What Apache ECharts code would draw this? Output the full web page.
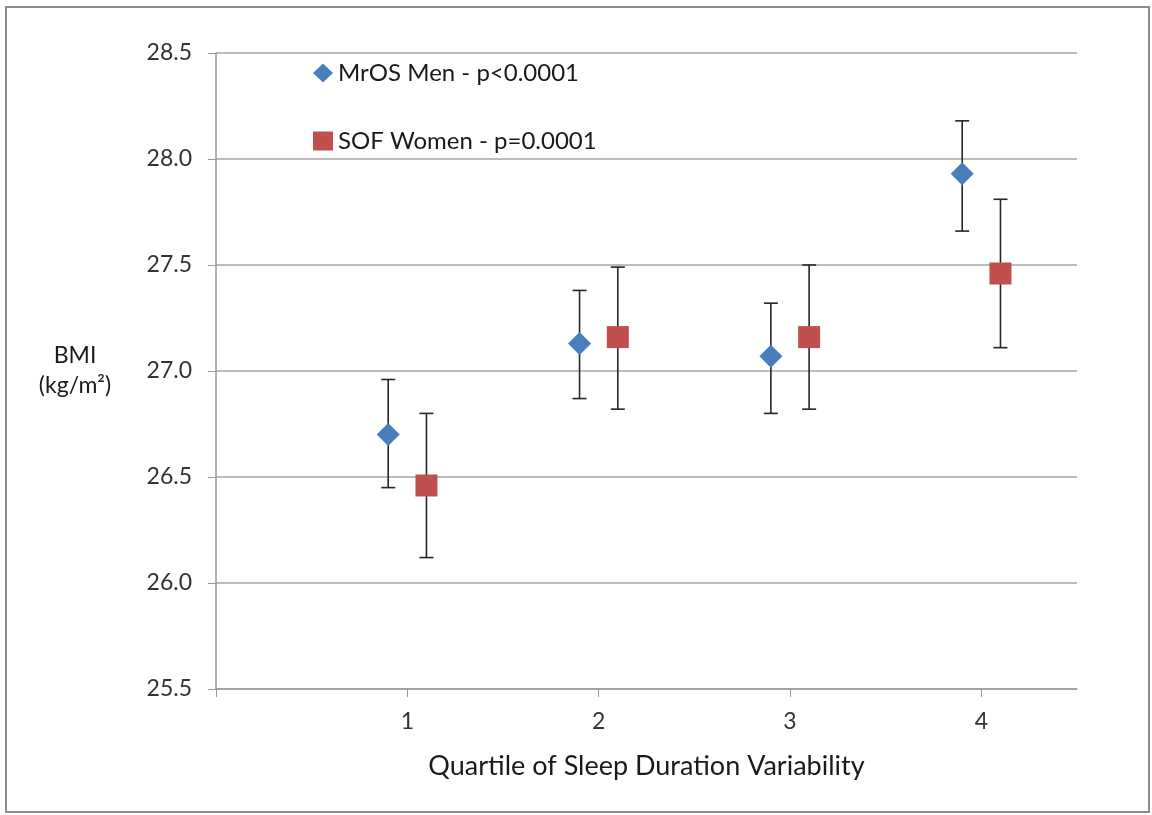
<!DOCTYPE html>
<html>
<head>
<meta charset="utf-8">
<script src="https://cdn.jsdelivr.net/npm/echarts@6/dist/echarts.min.js"></script>
<style>
    html, body { margin: 0; padding: 0; background: #fff; }
    #chart { width: 1152px; height: 815px; }
</style>
</head>
<body>
<div id="chart"></div>
<script>
// quartile positions, men drawn just left, women just right of each quartile
var quartileTicks = [0, 1, 2, 3, 4];
var quartileLabels = [1, 2, 3, 4];
var menX = [0.9, 1.9, 2.9, 3.9];
var womenX = [1.1, 2.1, 3.1, 4.1];

// BMI means and error bar ends
var menMean = [26.70, 27.13, 27.07, 27.93];
var menLow = [26.45, 26.87, 26.80, 27.66];
var menHigh = [26.96, 27.38, 27.32, 28.18];

var womenMean = [26.46, 27.16, 27.16, 27.46];
var womenLow = [26.12, 26.82, 26.82, 27.11];
var womenHigh = [26.80, 27.49, 27.50, 27.81];

var menName = 'MrOS Men - p<0.0001';
var womenName = 'SOF Women - p=0.0001';

function zip(xs, a, b) {
    var out = [];
    for (var i = 0; i < xs.length; i++) {
        out.push(b ? [xs[i], a[i], b[i]] : [xs[i], a[i]]);
    }
    return out;
}

function renderErrorBar(params, api) {
    var x = api.value(0);
    var top = api.coord([x, api.value(2)]);
    var bottom = api.coord([x, api.value(1)]);
    var half = 7;
    var style = {stroke: '#262626', lineWidth: 1.6};
    return {
        type: 'group',
        children: [
            {type: 'line', shape: {x1: top[0], y1: top[1], x2: bottom[0], y2: bottom[1]}, style: style},
            {type: 'line', shape: {x1: top[0] - half, y1: top[1], x2: top[0] + half, y2: top[1]}, style: style},
            {type: 'line', shape: {x1: bottom[0] - half, y1: bottom[1], x2: bottom[0] + half, y2: bottom[1]}, style: style}
        ]
    };
}

var font = 'Lato';
var chart = echarts.init(document.getElementById('chart'));
chart.setOption({
    animation: false,
    textStyle: {fontFamily: font},
    graphic: [{
        type: 'rect',
        shape: {x: 6, y: 7, width: 1143, height: 805},
        style: {fill: 'none', stroke: '#8c8c8c', lineWidth: 2},
        silent: true
    }],
    grid: {left: 216, right: 75, top: 53, bottom: 126},
    legend: {
        orient: 'vertical',
        left: 308,
        top: 56,
        itemGap: 44,
        itemWidth: 20,
        itemHeight: 19,
        textStyle: {fontFamily: font, fontSize: 24, lineHeight: 24, color: '#1a1a1a'},
        data: [
            {name: menName, icon: 'diamond'},
            {name: womenName, icon: 'rect'}
        ]
    },
    xAxis: {
        type: 'value',
        min: 0,
        max: 4.5,
        interval: 1,
        name: 'Quartile of Sleep Duration Variability',
        nameLocation: 'middle',
        nameGap: 64,
        nameTextStyle: {fontFamily: font, fontSize: 27, color: '#1a1a1a'},
        axisLine: {show: true, lineStyle: {color: '#9a9a9a', width: 1.5}},
        axisTick: {show: true, length: 8, customValues: quartileTicks, lineStyle: {color: '#9a9a9a'}},
        axisLabel: {customValues: quartileLabels, margin: 21, fontSize: 23, color: '#333'},
        splitLine: {show: false}
    },
    yAxis: {
        type: 'value',
        min: 25.5,
        max: 28.5,
        interval: 0.5,
        name: 'BMI\n(kg/m²)',
        nameLocation: 'middle',
        nameRotate: 0,
        nameGap: 141,
        nameTextStyle: {fontFamily: font, fontSize: 23, color: '#1a1a1a', align: 'center', verticalAlign: 'middle', lineHeight: 30},
        axisLine: {show: true, lineStyle: {color: '#9a9a9a', width: 1.5}},
        axisTick: {show: true, length: 8, lineStyle: {color: '#9a9a9a'}},
        axisLabel: {
            margin: 24,
            fontSize: 23,
            color: '#333',
            formatter: function (v) { return v.toFixed(1); }
        },
        splitLine: {show: true, lineStyle: {color: '#a6a6a6', width: 1.5}}
    },
    series: [
        {
            type: 'custom',
            name: 'menErr',
            renderItem: renderErrorBar,
            encode: {x: 0, y: [1, 2]},
            data: zip(menX, menLow, menHigh),
            z: 2
        },
        {
            type: 'custom',
            name: 'womenErr',
            renderItem: renderErrorBar,
            encode: {x: 0, y: [1, 2]},
            data: zip(womenX, womenLow, womenHigh),
            z: 2
        },
        {
            type: 'scatter',
            name: menName,
            symbol: 'diamond',
            symbolSize: 23,
            itemStyle: {color: '#4a7ebb', opacity: 1},
            data: zip(menX, menMean),
            z: 5
        },
        {
            type: 'scatter',
            name: womenName,
            symbol: 'rect',
            symbolSize: 22,
            itemStyle: {color: '#c0504d', opacity: 1},
            data: zip(womenX, womenMean),
            z: 5
        }
    ]
});
</script>
</body>
</html>
